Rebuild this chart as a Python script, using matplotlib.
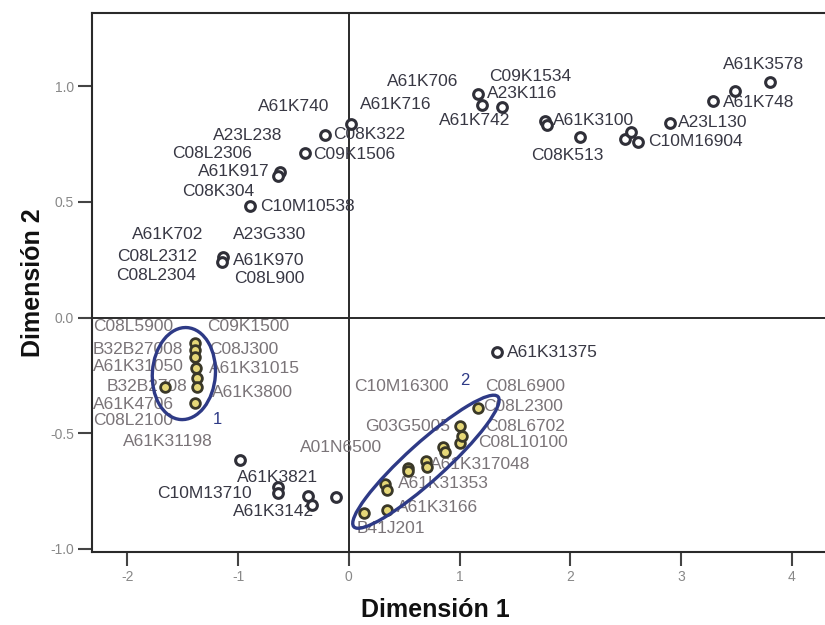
import matplotlib.pyplot as plt
from matplotlib.patches import Ellipse
from matplotlib.transforms import Affine2D

plt.rcParams['font.family'] = ['Liberation Sans', 'DejaVu Sans']

# plain object points (hollow circles)
plain_x = [3.80, 3.49, 3.29, 2.90, 2.49, 2.55, 2.61, 2.09, 1.77, 1.79,
           1.17, 1.20, 1.38, 0.02, -0.22, -0.40, -0.62, -0.64, -0.89, -1.14,
           -1.15, 1.34, -0.98, -0.64, -0.64, -0.37, -0.33, -0.12]
plain_y = [1.02, 0.98, 0.935, 0.84, 0.77, 0.80, 0.76, 0.78, 0.85, 0.83,
           0.965, 0.92, 0.91, 0.835, 0.79, 0.71, 0.63, 0.61, 0.48, 0.26,
           0.24, -0.15, -0.615, -0.73, -0.76, -0.77, -0.81, -0.775]

# group 1 points (inside left ellipse)
g1_x = [-1.39, -1.39, -1.39, -1.38, -1.37, -1.37, -1.39, -1.66]
g1_y = [-0.11, -0.14, -0.17, -0.22, -0.26, -0.30, -0.37, -0.30]

# group 2 points (inside diagonal ellipse)
g2_x = [0.14, 0.34, 0.33, 0.34, 0.53, 0.53, 0.70, 0.71, 0.85, 0.87,
        1.00, 1.02, 1.00, 1.17]
g2_y = [-0.845, -0.83, -0.72, -0.745, -0.65, -0.665, -0.62, -0.645, -0.56, -0.58,
        -0.54, -0.51, -0.47, -0.39]

# labels for upper half (dark) and lower half (grey)
top_labels = ['A61K3578', 'A61K748', 'A23L130', 'C10M16904', 'C08K513', 'A61K3100',
              'A61K742', 'A23K116', 'C09K1534', 'A61K706', 'A61K716', 'C08K322',
              'A61K740', 'A23L238', 'C08L2306', 'C09K1506', 'A61K917', 'C08K304',
              'C10M10538', 'A61K702', 'A23G330', 'C08L2312', 'A61K970', 'C08L2304',
              'C08L900', 'A61K31375', 'A61K3821', 'C10M13710', 'A61K3142']
top_lx = [3.38, 3.38, 2.97, 2.70, 1.65, 1.84, 0.81, 1.25, 1.27, 0.34, 0.10, -0.145,
          -0.82, -1.23, -1.60, -0.325, -1.36, -1.51, -0.80, -1.96, -1.05, -2.09, -1.05,
          -2.10, -1.04, 1.43, -1.01, -1.73, -1.05]
top_ly = [1.095, 0.93, 0.845, 0.76, 0.70, 0.85, 0.85, 0.97, 1.04, 1.02, 0.92, 0.79,
          0.91, 0.785, 0.71, 0.705, 0.63, 0.545, 0.48, 0.36, 0.36, 0.265, 0.245,
          0.18, 0.17, -0.15, -0.69, -0.76, -0.84]

low_labels = ['C08L5900', 'C09K1500', 'B32B27008', 'C08J300', 'A61K31050', 'A61K31015',
              'B32B2708', 'A61K3800', 'A61K4706', 'C08L2100', 'A61K31198', 'A01N6500',
              'C10M16300', 'C08L6900', 'C08L2300', 'G03G5005', 'C08L6702', 'C08L10100',
              'A61K317048', 'A61K31353', 'A61K3166', 'B41J201']
low_lx = [-2.31, -1.28, -2.31, -1.26, -2.31, -1.26, -2.19, -1.24, -2.31, -2.31, -2.04,
          -0.44, 0.05, 1.23, 1.21, 0.145, 1.23, 1.17, 0.73, 0.44, 0.43, 0.07]
low_ly = [-0.04, -0.04, -0.14, -0.14, -0.21, -0.22, -0.30, -0.325, -0.375, -0.445,
          -0.535, -0.56, -0.30, -0.30, -0.385, -0.47, -0.47, -0.54, -0.635, -0.715,
          -0.82, -0.91]

fig = plt.figure(figsize=(8.25, 6.25), dpi=100)
ax = fig.add_axes([0.1115, 0.1168, 0.8885, 0.8624])
ax.set_xlim(-2.32, 4.30)
ax.set_ylim(-1.013, 1.316)

# reference lines
ax.axvline(0, color='#2a2a2a', lw=1.4, zorder=1)
ax.axhline(0, color='#2a2a2a', lw=1.4, zorder=1)

ax.plot(plain_x, plain_y, 'o', ms=7, mfc='white', mec='#2f2f38', mew=2.2, zorder=3)
ax.plot(g1_x + g2_x, g1_y + g2_y, 'o', ms=7, mfc='#e6d878', mec='#3a3828',
        mew=2.0, zorder=3)

for t, x, y in zip(top_labels, top_lx, top_ly):
    ax.text(x, y, t, fontsize=12.5, color='#383844', va='center', ha='left', zorder=2)
for t, x, y in zip(low_labels, low_lx, low_ly):
    ax.text(x, y, t, fontsize=12.5, color='#7a7478', va='center', ha='left', zorder=2)

# ellipses drawn in pixel-like units so the rotation looks right
px_x = 1 / 110.7
px_y = 1 / 231.0
for cx, cy, w, h, ang in [(-1.49, -0.242, 63, 92, -4), (0.696, -0.623, 194, 38, 42)]:
    e = Ellipse((0, 0), w, h, angle=ang, fill=False, ec='#2e3a86', lw=2.4, zorder=4)
    e.set_transform(Affine2D().scale(px_x, px_y).translate(cx, cy) + ax.transData)
    ax.add_patch(e)
ax.text(-1.19, -0.44, '1', fontsize=12, color='#2e3a86', ha='center', va='center')
ax.text(1.05, -0.27, '2', fontsize=12, color='#2e3a86', ha='center', va='center')

ax.set_xticks([-2, -1, 0, 1, 2, 3, 4])
ax.set_xticklabels(['-2', '-1', '0', '1', '2', '3', '4'])
ax.set_yticks([-1.0, -0.5, 0.0, 0.5, 1.0])
ax.set_yticklabels(['-1.0', '-0.5', '0.0', '0.5', '1.0'])
ax.tick_params(direction='out', length=10, width=1.5, color='#444444',
               labelcolor='#888888', labelsize=10, pad=3)
for s in ['left', 'bottom', 'top']:
    ax.spines[s].set_color('#2a2a2a')
    ax.spines[s].set_linewidth(1.5)
ax.spines['right'].set_visible(False)

ax.set_xlabel('Dimensión 1', fontsize=18, fontweight='bold', color='#111111')
ax.xaxis.set_label_coords(0.468, -0.085)
ax.set_ylabel('Dimensión 2', fontsize=18, fontweight='bold', color='#111111')
ax.yaxis.set_label_coords(-0.064, 0.5)

fig.savefig('out.png', dpi=100)
